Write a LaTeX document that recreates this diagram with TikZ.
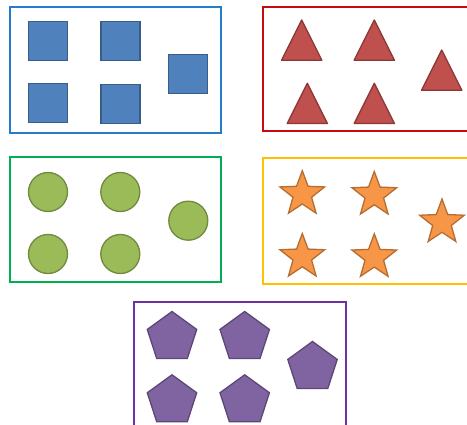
\documentclass[tikz,border=0pt]{standalone}
\usepackage{tikz}
\usetikzlibrary{shapes.geometric}

\definecolor{bluebox}{RGB}{36,125,200}
\definecolor{redbox}{RGB}{200,10,10}
\definecolor{greenbox}{RGB}{0,176,80}
\definecolor{yellowbox}{RGB}{255,192,0}
\definecolor{purplebox}{RGB}{112,48,160}
\definecolor{sqfill}{HTML}{4F81BD}
\definecolor{sqline}{HTML}{385D8A}
\definecolor{trifill}{HTML}{C0504D}
\definecolor{triline}{HTML}{8C3836}
\definecolor{dotfill}{HTML}{9BBB59}
\definecolor{dotline}{HTML}{71893F}
\definecolor{starfill}{HTML}{F79646}
\definecolor{starline}{HTML}{B66D31}
\definecolor{pentfill}{HTML}{8064A2}
\definecolor{pentline}{HTML}{5C4776}

\begin{document}
\begin{tikzpicture}[x=1pt,y=-1pt,
    frame/.style={line width=2pt, draw=#1},
    shapeline/.style={line width=1.3pt, inner sep=0pt},
    sq/.style={shapeline, draw=sqline, fill=sqfill, rectangle, minimum size=39pt},
    tri/.style={shapeline, draw=triline, fill=trifill, line join=round},
    dot/.style={shapeline, draw=dotline, fill=dotfill, circle, minimum size=39pt},
    starshape/.style={shapeline, draw=starline, fill=starfill, star, star points=5,
      star point ratio=2.4, minimum size=47pt},
    pent/.style={shapeline, draw=pentline, fill=pentfill, regular polygon,
      regular polygon sides=5, minimum size=52pt}]
\useasboundingbox (0,0) rectangle (467,425);
\clip (0,0) rectangle (467,425);

% boxes
\draw[frame=bluebox] (9.5,7.5) rectangle (221,133);
\draw[frame=redbox] (262.5,7) rectangle (476,131.5);
\draw[frame=greenbox] (9.5,157.5) rectangle (221,282.5);
\draw[frame=yellowbox] (262.5,158.5) rectangle (476,284);
\draw[frame=purplebox] (134,302) rectangle (345.5,428);

% squares
\foreach \x/\y [count=\i] in {48/41.3, 120.5/41.3, 188/74, 48/103, 120.5/104.2}
  \node[sq] (sq\i) at (\x,\y) {};

% triangles
\foreach \x/\y in {301.7/20, 374.3/20, 441.7/50, 307.3/83.3, 374.3/83.3}
  \draw[tri] (\x,\y) -- ++(20.2,40.3) -- ++(-40.4,0) -- cycle;

% circles
\foreach \x/\y [count=\i] in {48/192, 120.3/192, 188.3/220.7, 48/254, 120.3/254}
  \node[dot] (dot\i) at (\x,\y) {};

% stars
\foreach \x/\y [count=\i] in {302.3/194.2, 374.3/195, 442/222.5, 302.3/257, 374.3/257.3}
  \node[starshape] (star\i) at (\x,\y) {};

% pentagons
\foreach \x/\y [count=\i] in {172/337.5, 244.7/337.5, 312.5/367.5, 172/400.8, 244.7/400.8}
  \node[pent] (pent\i) at (\x,\y) {};
\end{tikzpicture}
\end{document}
